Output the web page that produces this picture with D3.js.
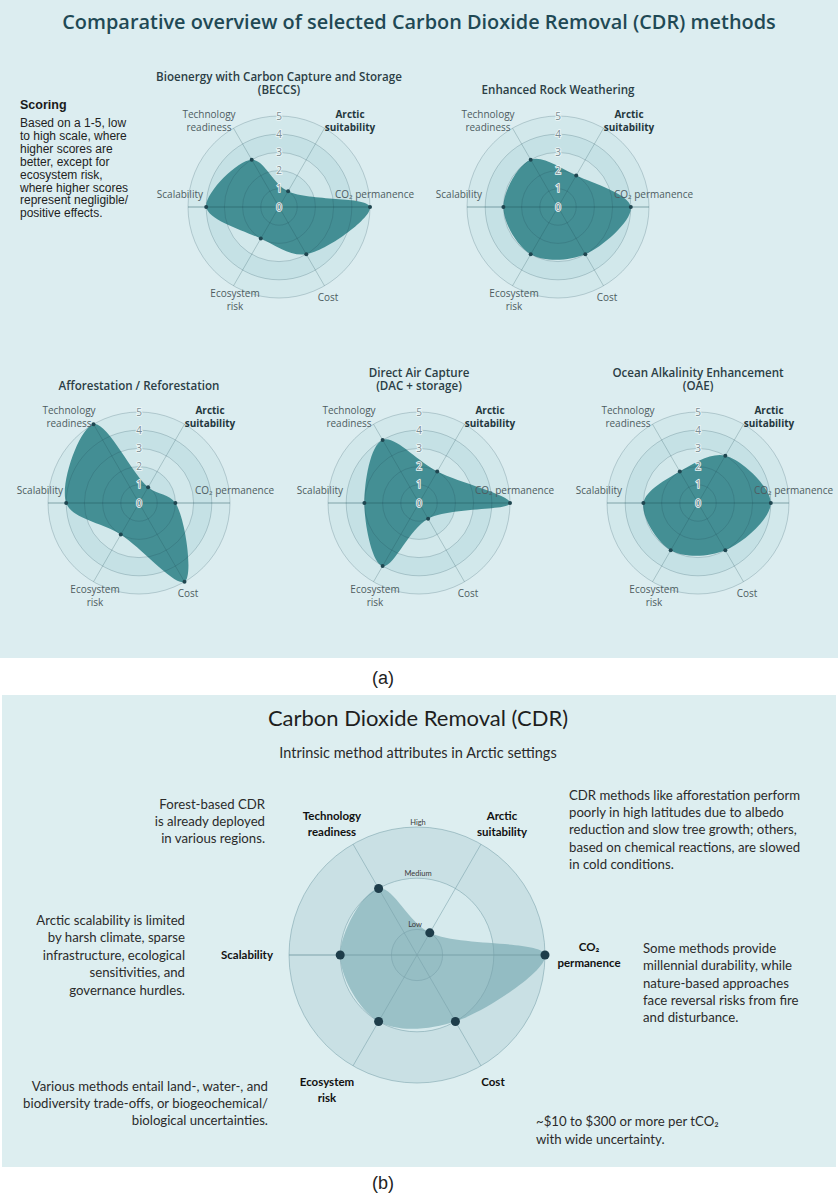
<!DOCTYPE html>
<html>
<head>
<meta charset="utf-8">
<script src="https://cdn.jsdelivr.net/npm/d3@7"></script>
<style>
  body { margin: 0; background: #fff; }
  svg { display: block; }
</style>
</head>
<body>
<div id="chart"></div>
<script>
// ─── Data ───
const axisNames = [
  ["Technology", "readiness"],
  ["Arctic", "suitability"],
  ["CO₂ permanence"],
  ["Cost"],
  ["Ecosystem", "risk"],
  ["Scalability"],
];
const scoreTicks = [0, 1, 2, 3, 4, 5];
const methodTitles = [
  ["Bioenergy with Carbon Capture and Storage", "(BECCS)"],
  ["Enhanced Rock Weathering"],
  ["Afforestation / Reforestation"],
  ["Direct Air Capture", "(DAC + storage)"],
  ["Ocean Alkalinity Enhancement", "(OAE)"],
];
// order: tech readiness, arctic suitability, CO2 permanence, cost, ecosystem risk, scalability
const beccsScores = [3, 1, 5, 3, 2, 4];
const erwScores = [3, 2, 4, 3, 3, 3];
const afforestationScores = [5, 1, 2, 5, 2, 4];
const dacScores = [4, 2, 5, 1, 4, 3];
const oaeScores = [2, 3, 4, 3, 3, 3];
const methodScores = [beccsScores, erwScores, afforestationScores, dacScores, oaeScores];

// panel (b)
const arcticAxisNames = [
  ["Technology", "readiness"],
  ["Arctic", "suitability"],
  ["CO₂", "permanence"],
  ["Cost"],
  ["Ecosystem", "risk"],
  ["Scalability"],
];
const arcticScores = [3, 1, 5, 3, 3, 3];
const levelTicks = [1, 3, 5];
const levelLabels = ["Low", "Medium", "High"];

const scoringText = [
  "Based on a 1-5, low",
  "to high scale, where",
  "higher scores are",
  "better, except for",
  "ecosystem risk,",
  "where higher scores",
  "represent negligible/",
  "positive effects.",
];
const noteTech = ["Forest-based CDR", "is already deployed", "in various regions."];
const noteScal = [
  "Arctic scalability is limited",
  "by harsh climate, sparse",
  "infrastructure, ecological",
  "sensitivities, and",
  "governance hurdles.",
];
const noteEco = [
  "Various methods entail land-, water-, and",
  "biodiversity trade-offs, or biogeochemical/",
  "biological uncertainties.",
];
const noteArctic = [
  "CDR methods like afforestation perform",
  "poorly in high latitudes due to albedo",
  "reduction and slow tree growth; others,",
  "based on chemical reactions, are slowed",
  "in cold conditions.",
];
const notePerm = [
  "Some methods provide",
  "millennial durability, while",
  "nature-based approaches",
  "face reversal risks from fire",
  "and disturbance.",
];
const noteCost = ["~$10 to $300 or more per tCO₂", "with wide uncertainty."];

// ─── Layout ───
const W = 838, H = 1200;
const TOP_FONT = "'Open Sans', sans-serif";
const B_FONT = "Lato, 'Open Sans', sans-serif";
const radarCenters = [[279, 207], [558, 207], [139, 503], [419, 503], [698, 503]];
const R_TOP = 91;
// label placement relative to radar centre (top panel)
const topLabelPos = [
  { dx: -70, dy: -93, anchor: "middle" },
  { dx: 71, dy: -93, anchor: "middle", bold: true },
  { dx: 56, dy: -13, anchor: "start" },
  { dx: 49, dy: 90, anchor: "middle" },
  { dx: -44, dy: 86, anchor: "middle" },
  { dx: -76, dy: -13, anchor: "end" },
];
// angle of each axis, clockwise from 12 o'clock
const axisAngle = (i) => (Math.PI / 6) * (2 * i - 1);

const svg = d3
  .select("#chart")
  .append("svg")
  .attr("width", W)
  .attr("height", H);

function multiline(g, lines, x, y, lh, opts = {}) {
  const t = g
    .append("text")
    .attr("x", x)
    .attr("y", y)
    .attr("text-anchor", opts.anchor || "start")
    .style("font-family", opts.font || TOP_FONT)
    .style("font-size", (opts.size || 10) + "px")
    .style("font-weight", opts.weight || 400)
    .style("fill", opts.fill || "#333");
  lines.forEach((ln, i) => {
    t.append("tspan").attr("x", x).attr("dy", i === 0 ? 0 : lh).text(ln);
  });
  return t;
}

// ─── Panel (a) ───
svg.append("rect").attr("x", 0).attr("y", 0).attr("width", W).attr("height", 658).attr("fill", "#dcedf0");

svg
  .append("text")
  .attr("x", 419)
  .attr("y", 29)
  .attr("text-anchor", "middle")
  .style("font-family", TOP_FONT)
  .style("font-size", "19.9px")
  .style("font-weight", 600)
  .style("fill", "#1f4955")
  .text("Comparative overview of selected Carbon Dioxide Removal (CDR) methods");

svg
  .append("text")
  .attr("x", 20)
  .attr("y", 109)
  .style("font-family", "'Liberation Sans', Arial, sans-serif")
  .style("font-size", "12.5px")
  .style("font-weight", 700)
  .style("fill", "#1a1a1a")
  .text("Scoring");
multiline(svg, scoringText, 20, 127, 12.9, {
  font: "'Liberation Sans', Arial, sans-serif",
  size: 12,
  fill: "#222",
});

const rTop = d3.scaleLinear().domain([0, 5]).range([0, R_TOP]);
const bandFill = ["#c5e1e5", "#d2e8eb"];

function drawTopRadar(values, title, [cx, cy]) {
  const g = svg.append("g").attr("transform", `translate(${cx},${cy})`);

  // background bands
  g.selectAll("circle.band")
    .data(scoreTicks.slice(1).reverse())
    .join("circle")
    .attr("class", "band")
    .attr("r", (d) => rTop(d))
    .attr("fill", (d) => bandFill[d % 2]);

  const area = d3
    .lineRadial()
    .angle((d, i) => axisAngle(i))
    .radius((d) => rTop(d))
    .curve(d3.curveCatmullRomClosed.alpha(0.5));

  g.append("path").attr("d", area(values)).attr("fill", "#3f8b91").attr("fill-opacity", 0.97);

  // grid on top
  g.selectAll("circle.ring")
    .data(scoreTicks.slice(1))
    .join("circle")
    .attr("class", "ring")
    .attr("r", (d) => rTop(d))
    .attr("fill", "none")
    .attr("stroke", "rgba(30,75,85,0.28)")
    .attr("stroke-width", 0.8);

  g.selectAll("line.spoke")
    .data(axisNames)
    .join("line")
    .attr("class", "spoke")
    .attr("x1", 0)
    .attr("y1", 0)
    .attr("x2", (d, i) => Math.sin(axisAngle(i)) * rTop(5))
    .attr("y2", (d, i) => -Math.cos(axisAngle(i)) * rTop(5))
    .attr("stroke", "rgba(30,75,85,0.3)")
    .attr("stroke-width", 0.8);
  g.append("line")
    .attr("x1", -rTop(5)).attr("x2", rTop(5))
    .attr("stroke", "rgba(30,75,85,0.3)")
    .attr("stroke-width", 0.8);

  g.selectAll("circle.pt")
    .data(values)
    .join("circle")
    .attr("class", "pt")
    .attr("cx", (d, i) => Math.sin(axisAngle(i)) * rTop(d))
    .attr("cy", (d, i) => -Math.cos(axisAngle(i)) * rTop(d))
    .attr("r", 2)
    .attr("fill", "#1f4650");

  // tick labels
  g.selectAll("text.tick")
    .data(scoreTicks)
    .join("text")
    .attr("class", "tick")
    .attr("x", 0)
    .attr("y", (d) => -rTop(d))
    .attr("dy", "0.36em")
    .attr("text-anchor", "middle")
    .style("font-family", TOP_FONT)
    .style("font-size", "10px")
    .style("fill", "#7b8d92")
    .style("stroke", "#eef7f8")
    .style("stroke-width", 1.6)
    .style("paint-order", "stroke")
    .text((d) => d);

  // axis labels
  axisNames.forEach((lines, i) => {
    const p = topLabelPos[i];
    multiline(g, lines, p.dx, p.dy + 3.6, 13.4, {
      anchor: p.anchor,
      size: 10,
      weight: p.bold ? 700 : 400,
      fill: p.bold ? "#24373e" : "#4d5c61",
    });
  });

  // title
  const tY = -117 - (title.length - 1) * 13.5 + 4;
  multiline(g, title, 0, tY, 13.5, {
    anchor: "middle",
    size: 11.6,
    weight: 600,
    fill: "#2b3e45",
  });
}

methodScores.forEach((vals, i) => drawTopRadar(vals, methodTitles[i], radarCenters[i]));

svg
  .append("text")
  .attr("x", 383)
  .attr("y", 684)
  .attr("text-anchor", "middle")
  .style("font-family", "'Liberation Sans', Arial, sans-serif")
  .style("font-size", "18px")
  .style("fill", "#222")
  .text("(a)");

// ─── Panel (b) ───
svg.append("rect").attr("x", 2).attr("y", 695).attr("width", W - 4).attr("height", 472).attr("fill", "#ddeef0");

svg
  .append("text")
  .attr("x", 418)
  .attr("y", 726)
  .attr("text-anchor", "middle")
  .style("font-family", B_FONT)
  .style("font-size", "22px")
  .style("fill", "#1e1e1e")
  .text("Carbon Dioxide Removal (CDR)");
svg
  .append("text")
  .attr("x", 418)
  .attr("y", 758)
  .attr("text-anchor", "middle")
  .style("font-family", B_FONT)
  .style("font-size", "14.5px")
  .style("fill", "#2a2a2a")
  .text("Intrinsic method attributes in Arctic settings");

const BCX = 417, BCY = 955, R_B = 128;
const rB = d3.scaleLinear().domain([0, 5]).range([0, R_B]);
const gb = svg.append("g").attr("transform", `translate(${BCX},${BCY})`);
const levelFill = ["#cfe4e7", "#d6eaed", "#c9e0e4"];

gb.selectAll("circle.band")
  .data(levelTicks.slice().reverse())
  .join("circle")
  .attr("r", (d) => rB(d))
  .attr("fill", (d, i) => levelFill[2 - i]);

const areaB = d3
  .lineRadial()
  .angle((d, i) => axisAngle(i))
  .radius((d) => rB(d))
  .curve(d3.curveCatmullRomClosed.alpha(0.5));
gb.append("path").attr("d", areaB(arcticScores)).attr("fill", "#5d97a2").attr("fill-opacity", 0.5);

gb.selectAll("circle.ring")
  .data(levelTicks)
  .join("circle")
  .attr("r", (d) => rB(d))
  .attr("fill", "none")
  .attr("stroke", "rgba(120,160,170,0.55)")
  .attr("stroke-width", 1);
gb.selectAll("line.spoke")
  .data(arcticAxisNames)
  .join("line")
  .attr("x2", (d, i) => Math.sin(axisAngle(i)) * rB(5))
  .attr("y2", (d, i) => -Math.cos(axisAngle(i)) * rB(5))
  .attr("stroke", "rgba(120,160,170,0.55)")
  .attr("stroke-width", 1);
gb.append("line")
  .attr("x1", -rB(5)).attr("x2", rB(5))
  .attr("stroke", "rgba(120,160,170,0.55)")
  .attr("stroke-width", 1);

gb.selectAll("circle.pt")
  .data(arcticScores)
  .join("circle")
  .attr("cx", (d, i) => Math.sin(axisAngle(i)) * rB(d))
  .attr("cy", (d, i) => -Math.cos(axisAngle(i)) * rB(d))
  .attr("r", 4.5)
  .attr("fill", "#1e3d4a");

gb.selectAll("text.level")
  .data(levelTicks)
  .join("text")
  .attr("x", (d, i) => (i === 0 ? -2 : 1))
  .attr("y", (d) => -rB(d) - 2)
  .attr("text-anchor", "middle")
  .style("font-family", B_FONT)
  .style("font-size", "7.5px")
  .style("fill", "#3a3a3a")
  .text((d, i) => levelLabels[i]);

const bLabelPos = [
  { dx: -85, dy: -139 },
  { dx: 85, dy: -139 },
  { dx: 172, dy: -8 },
  { dx: 76, dy: 127 },
  { dx: -90, dy: 127 },
  { dx: -170, dy: 0 },
];
arcticAxisNames.forEach((lines, i) => {
  const p = bLabelPos[i];
  multiline(gb, lines, p.dx, p.dy + 4, 15.5, {
    anchor: "middle",
    font: B_FONT,
    size: 11.5,
    weight: 700,
    fill: "#111",
  });
});

const noteOpts = (anchor) => ({ anchor, font: B_FONT, size: 13.2, fill: "#2b2b2b" });
multiline(svg, noteTech, 265, 809, 17, noteOpts("end"));
multiline(svg, noteScal, 185, 925, 17.4, noteOpts("end"));
multiline(svg, noteEco, 268, 1091, 17, noteOpts("end"));
multiline(svg, noteArctic, 569, 800, 17.2, noteOpts("start"));
multiline(svg, notePerm, 643, 953, 17.3, noteOpts("start"));
multiline(svg, noteCost, 536, 1126, 17.5, noteOpts("start"));

svg
  .append("text")
  .attr("x", 383)
  .attr("y", 1189)
  .attr("text-anchor", "middle")
  .style("font-family", "'Liberation Sans', Arial, sans-serif")
  .style("font-size", "18px")
  .style("fill", "#222")
  .text("(b)");
</script>
</body>
</html>
